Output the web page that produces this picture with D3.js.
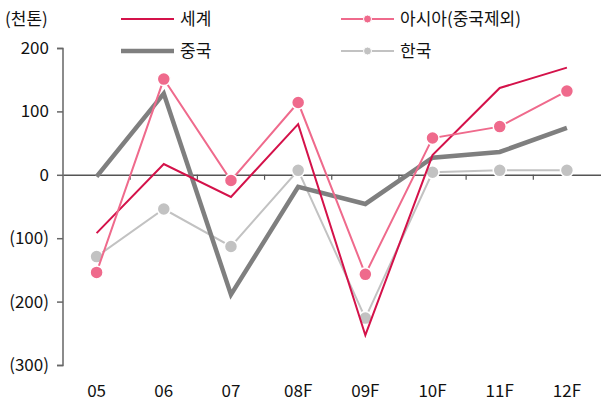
<!DOCTYPE html>
<html><head><meta charset="utf-8">
<script src="https://cdn.jsdelivr.net/npm/d3@7"></script>
<style>body{margin:0;background:#fff}svg text{font-family:"Noto Sans CJK KR","Noto Sans",sans-serif;fill:#111}</style>
</head><body><svg id="c" width="601" height="405"></svg>
<script>
const categories = ["05","06","07","08F","09F","10F","11F","12F"];
const world = [-92, 17, -35, 80, -253, 31, 137, 169];
const asia = [-154, 151, -9, 114, -157, 58, 76, 132];
const china = [-3, 128, -189, -19, -46, 27, 36, 74];
const korea = [-129, -54, -113, 7, -226, 4, 7, 7];
const yTicks = [200, 100, 0, -100, -200, -300];
const unitLabel = "(천톤)";

const svg = d3.select("#c");
const x = d3.scaleBand().domain(categories).range([63, 600.5]);
const y = d3.scaleLinear().domain([-300, 200]).range([365, 48]);
const fmt = v => v < 0 ? "(" + Math.abs(v) + ")" : String(v);

// y axis
const ya = svg.append("g").attr("transform","translate(63,0)")
  .call(d3.axisLeft(y).tickValues(yTicks).tickSize(6).tickPadding(8).tickFormat(fmt));
ya.select(".domain").attr("stroke","#666").attr("stroke-width",1.5).attr("d","M-6,48.5H0V365.5H-6");
ya.selectAll(".tick line").attr("stroke","#666").attr("stroke-width",1.5);
ya.selectAll(".tick text").attr("font-size",17).style("fill","#111");

// zero axis with category ticks
const xa = svg.append("g").attr("transform","translate(0," + y(0) + ")")
  .call(d3.axisBottom(x).tickSize(0).tickFormat(""));
xa.select(".domain").attr("stroke","#555").attr("stroke-width",1.5);
xa.selectAll(".tick").remove();
svg.append("g").selectAll("line").data(categories.slice(1)).join("line")
  .attr("x1", d => x(d)).attr("x2", d => x(d))
  .attr("y1", y(0)).attr("y2", y(0) + 5).attr("stroke","#555").attr("stroke-width",1.2);

// x labels
svg.append("g").selectAll("text").data(categories).join("text")
  .attr("x", d => x(d) + x.bandwidth()/2).attr("y", 397)
  .attr("text-anchor","middle").attr("font-size",17).text(d => d);

svg.append("text").attr("x",5).attr("y",25).attr("font-size",17).text(unitLabel);

const cx = (d,i) => x(categories[i]) + x.bandwidth()/2;
const line = d3.line().x(cx).y(d => y(d));

const series = [
  {name:"한국", data:korea, color:"#c2c2c2", w:2, dots:true},
  {name:"중국", data:china, color:"#7f7f7f", w:4.5, dots:false},
  {name:"세계", data:world, color:"#d4124a", w:2, dots:false},
  {name:"아시아(중국제외)", data:asia, color:"#ef6a8c", w:2, dots:true}
];
series.forEach(s => {
  svg.append("path").datum(s.data).attr("d", line).attr("fill","none")
    .attr("stroke", s.color).attr("stroke-width", s.w).attr("stroke-linejoin","miter");
  if (s.dots) {
    svg.append("g").selectAll("circle").data(s.data).join("circle")
      .attr("cx", cx).attr("cy", d => y(d)).attr("r", 6.5)
      .attr("fill", s.color).attr("stroke","#fff").attr("stroke-width",1.5);
  }
});

// legend
const legend = [
  {name:"세계", color:"#d4124a", w:2, dots:false, x:121, y:19},
  {name:"아시아(중국제외)", color:"#ef6a8c", w:2, dots:true, x:341, y:19},
  {name:"중국", color:"#7f7f7f", w:4.5, dots:false, x:121, y:51},
  {name:"한국", color:"#c2c2c2", w:2, dots:true, x:341, y:51}
];
const lg = svg.append("g").selectAll("g").data(legend).join("g")
  .attr("transform", d => "translate(" + d.x + "," + d.y + ")");
lg.append("line").attr("x1",0).attr("x2",53).attr("stroke", d => d.color).attr("stroke-width", d => d.w);
lg.filter(d => d.dots).append("circle").attr("cx",26.5).attr("r",4).attr("fill", d => d.color)
  .attr("stroke","#fff").attr("stroke-width",1);
lg.append("text").attr("x",59).attr("y",6).attr("font-size",17).text(d => d.name);
</script></body></html>
